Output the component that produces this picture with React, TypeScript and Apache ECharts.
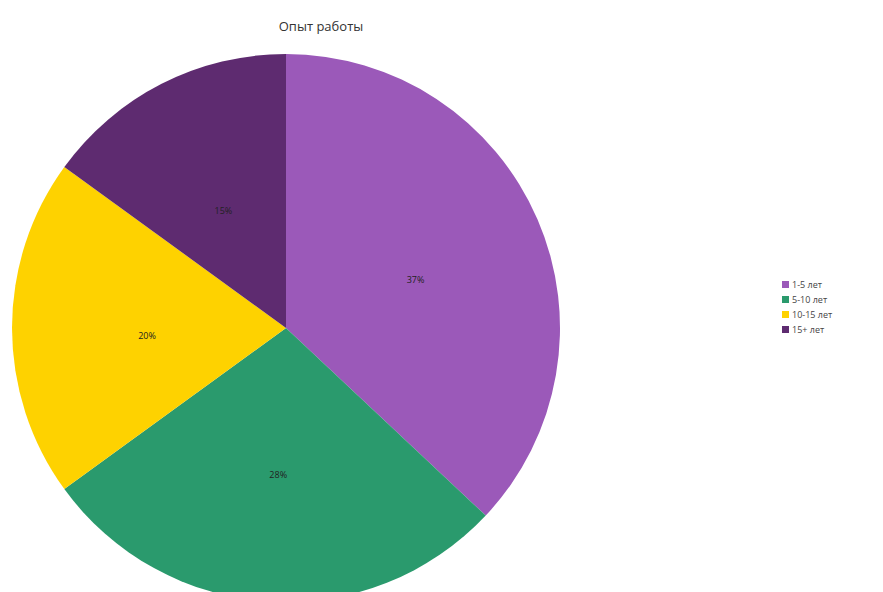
import React, { useEffect, useRef } from "react";
import * as echarts from "echarts";

const categories = ["1-5 лет", "5-10 лет", "10-15 лет", "15+ лет"];
const values = [37, 28, 20, 15];
const colors = ["#9b59b9", "#2a9a6d", "#fed200", "#5e2b70"];
const titleText = "Опыт работы";

export default function App() {
  const ref = useRef<HTMLDivElement>(null);
  useEffect(() => {
    if (!ref.current) return;
    const chart = echarts.init(ref.current, undefined, { renderer: "svg" });
    chart.setOption({
      animation: false,
      backgroundColor: "#ffffff",
      color: colors,
      title: {
        text: titleText,
        left: 316,
        top: 14,
        textAlign: "center",
        textStyle: { fontFamily: "Open Sans", fontSize: 13, fontWeight: "normal", color: "#333" },
      },
      legend: {
        orient: "vertical",
        left: 777,
        top: 275,
        itemWidth: 7,
        itemHeight: 7,
        itemGap: 6,
        icon: "rect",
        textStyle: { fontFamily: "Open Sans", fontSize: 9, color: "#444", padding: [0, 0, 0, -2] },
        data: categories,
      },
      series: [
        {
          type: "pie",
          center: [286, 328],
          radius: 274,
          startAngle: 90,
          clockwise: true,
          avoidLabelOverlap: false,
          label: {
            show: true,
            position: "inside",
            formatter: "{d}%",
            fontFamily: "Open Sans",
            fontSize: 9,
            color: "#222",
            offset: [1, 7],
          },
          labelLine: { show: false },
          itemStyle: { borderWidth: 0 },
          data: categories.map((c, i) => ({ name: c, value: values[i] })),
        },
      ],
    });
    return () => chart.dispose();
  }, []);
  return (
    <div
      ref={ref}
      style={{ position: "absolute", left: 0, top: 0, width: 883, height: 592 }}
    />
  );
}
